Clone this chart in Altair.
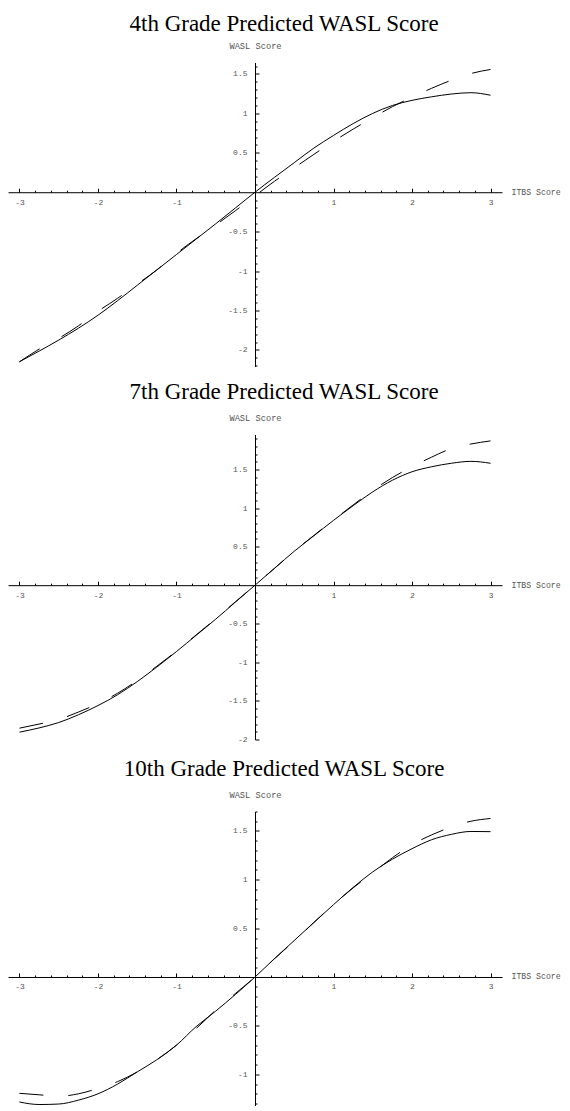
import altair as alt
import pandas as pd

# ---------------- data ----------------
X = [-3, -2.75, -2.5, -2.25, -2, -1.75, -1.5, -1.25, -1, -0.75, -0.5, -0.25, 0,
     0.25, 0.5, 0.75, 1, 1.25, 1.5, 1.75, 2, 2.25, 2.5, 2.75, 3]

g4_solid = [-2.15, -2.015, -1.875, -1.725, -1.56, -1.375, -1.18, -0.985, -0.79, -0.595, -0.40, -0.20, 0.0,
            0.19, 0.375, 0.56, 0.72, 0.87, 1.0, 1.10, 1.165, 1.21, 1.245, 1.262, 1.23]
g4_dashed = [-2.15, -1.99, -1.853, -1.695, -1.51, -1.345, -1.165, -0.985, -0.775, -0.59, -0.415, -0.235, -0.045,
             0.14, 0.31, 0.48, 0.645, 0.80, 0.945, 1.085, 1.205, 1.318, 1.42, 1.505, 1.557]

g7_solid = [-1.905, -1.85, -1.78, -1.68, -1.56, -1.42, -1.25, -1.06, -0.86, -0.65, -0.44, -0.22, 0.0,
            0.22, 0.44, 0.64, 0.84, 1.03, 1.21, 1.36, 1.47, 1.535, 1.58, 1.605, 1.58]
g7_dashed = [-1.853, -1.80, -1.74, -1.645, -1.535, -1.40, -1.235, -1.05, -0.855, -0.645, -0.435, -0.215, 0.0,
             0.22, 0.44, 0.645, 0.845, 1.04, 1.23, 1.395, 1.535, 1.66, 1.77, 1.83, 1.87]

g10_solid = [-1.284, -1.31, -1.305, -1.265, -1.20, -1.10, -0.975, -0.85, -0.70, -0.51, -0.35, -0.18, 0.0,
             0.19, 0.375, 0.56, 0.743, 0.92, 1.08, 1.21, 1.318, 1.41, 1.465, 1.495, 1.493]
g10_dashed = [-1.195, -1.21, -1.225, -1.20, -1.145, -1.075, -0.975, -0.85, -0.70, -0.53, -0.34, -0.17, 0.0,
              0.19, 0.37, 0.56, 0.745, 0.915, 1.07, 1.225, 1.36, 1.46, 1.54, 1.60, 1.628]

titles = ["4th Grade Predicted WASL Score",
          "7th Grade Predicted WASL Score",
          "10th Grade Predicted WASL Score"]
solids = [g4_solid, g7_solid, g10_solid]
dasheds = [g4_dashed, g7_dashed, g10_dashed]

x_domain = [-3.146, 3.146]
x_major = [-3, -2, -1, 1, 2, 3]
x_minor = [-2.8, -2.6, -2.4, -2.2, -1.8, -1.6, -1.4, -1.2, -0.8, -0.6, -0.4, -0.2,
           0.2, 0.4, 0.6, 0.8, 1.2, 1.4, 1.6, 1.8, 2.2, 2.4, 2.6, 2.8]

y_domains = [[-2.21, 1.645], [-2.0, 1.953], [-1.32, 1.70]]
HEIGHTS = [304, 305, 294]
y_major = [[-2, -1.5, -1, -0.5, 0.5, 1, 1.5],
           [-2, -1.5, -1, -0.5, 0.5, 1, 1.5],
           [-1, -0.5, 0.5, 1, 1.5]]
y_minor_ranges = [(-22, 16), (-20, 19), (-13, 17)]  # in tenths
TITLE_OFFSETS = [5.5, 10, 10]

x_title = "ITBS Score"
y_title = "WASL Score"

# ---------------- layout / style ----------------
W = 494
MONO = "Liberation Mono"
LABEL_COLOR = "#555555"


def minor_vals(lo, hi):
    return [v / 10 for v in range(lo, hi + 1) if v % 5 != 0]


def panel(i):
    df = pd.DataFrame({"x": X, "solid": solids[i], "dashed": dasheds[i]})
    H = HEIGHTS[i]
    lo, hi = y_domains[i]
    zero_from_top = hi / (hi - lo) * H
    x0 = -x_domain[0] / (x_domain[1] - x_domain[0]) * W

    xs = alt.Scale(domain=x_domain, nice=False, zero=False)
    ys = alt.Scale(domain=[lo, hi], nice=False, zero=False)
    base = alt.Chart(df)

    # curve 1, with the major ticks and the axis lines
    solid = base.mark_line(color="black", strokeWidth=1, interpolate="monotone",
                           clip=True).encode(
        x=alt.X("x:Q", scale=xs, axis=alt.Axis(
            orient="top", offset=-zero_from_top, values=x_major, tickSize=4,
            labels=False, title=None, grid=False, domain=True)),
        y=alt.Y("solid:Q", scale=ys, axis=alt.Axis(
            orient="right", offset=-(W - x0), values=y_major[i], tickSize=4,
            labels=False, title=None, grid=False, domain=True)),
    )
    # curve 2, with the minor ticks
    dashed = base.mark_line(color="black", strokeWidth=1, strokeDash=[24, 25],
                            interpolate="monotone", clip=True).encode(
        x=alt.X("x:Q", scale=xs, axis=alt.Axis(
            orient="top", offset=-zero_from_top, values=x_minor, tickSize=2,
            labels=False, title=None, grid=False, domain=False)),
        y=alt.Y("dashed:Q", scale=ys, axis=alt.Axis(
            orient="right", offset=-(W - x0), values=minor_vals(*y_minor_ranges[i]),
            tickSize=2, labels=False, title=None, grid=False, domain=False)),
    )
    # tick labels and axis titles
    host = base.mark_line(opacity=0, clip=True).encode(
        x=alt.X("x:Q", scale=xs, axis=alt.Axis(
            orient="bottom", offset=-(H - zero_from_top), values=x_major, ticks=False,
            domain=False, grid=False, labelPadding=6, labelExpr="'' + datum.value",
            title=x_title, titleX=W + 9, titleY=0, titleAlign="left",
            titleBaseline="middle", titleAngle=0, titleFontSize=8.2)),
        y=alt.Y("solid:Q", scale=ys, axis=alt.Axis(
            orient="left", offset=-x0, values=y_major[i], ticks=False,
            domain=False, grid=False, labelPadding=8, labelExpr="'' + datum.value",
            title=y_title, titleX=0, titleY=-17, titleAlign="center",
            titleBaseline="middle", titleAngle=0)),
    )
    return alt.layer(solid, dashed, host).resolve_axis(
        x="independent", y="independent").properties(
        width=W, height=H,
        title=alt.TitleParams(titles[i], font="Liberation Serif", fontSize=23,
                              fontWeight="normal", color="black", anchor="middle",
                              frame="bounds", offset=TITLE_OFFSETS[i]))


chart = alt.vconcat(panel(0), panel(1), panel(2), spacing=14).properties(
    padding={"top": 4.5, "left": 0, "right": 0, "bottom": 0}, background="white"
).configure_view(stroke=None).configure_axis(
    domainColor="black", domainWidth=1, tickColor="black", tickWidth=1,
    labelFont=MONO, labelFontSize=8, labelColor=LABEL_COLOR,
    titleFont=MONO, titleFontSize=8.7, titleColor=LABEL_COLOR, titleFontWeight="normal"
)

chart.save("out.html", embed_options={"renderer": "svg", "actions": False})
